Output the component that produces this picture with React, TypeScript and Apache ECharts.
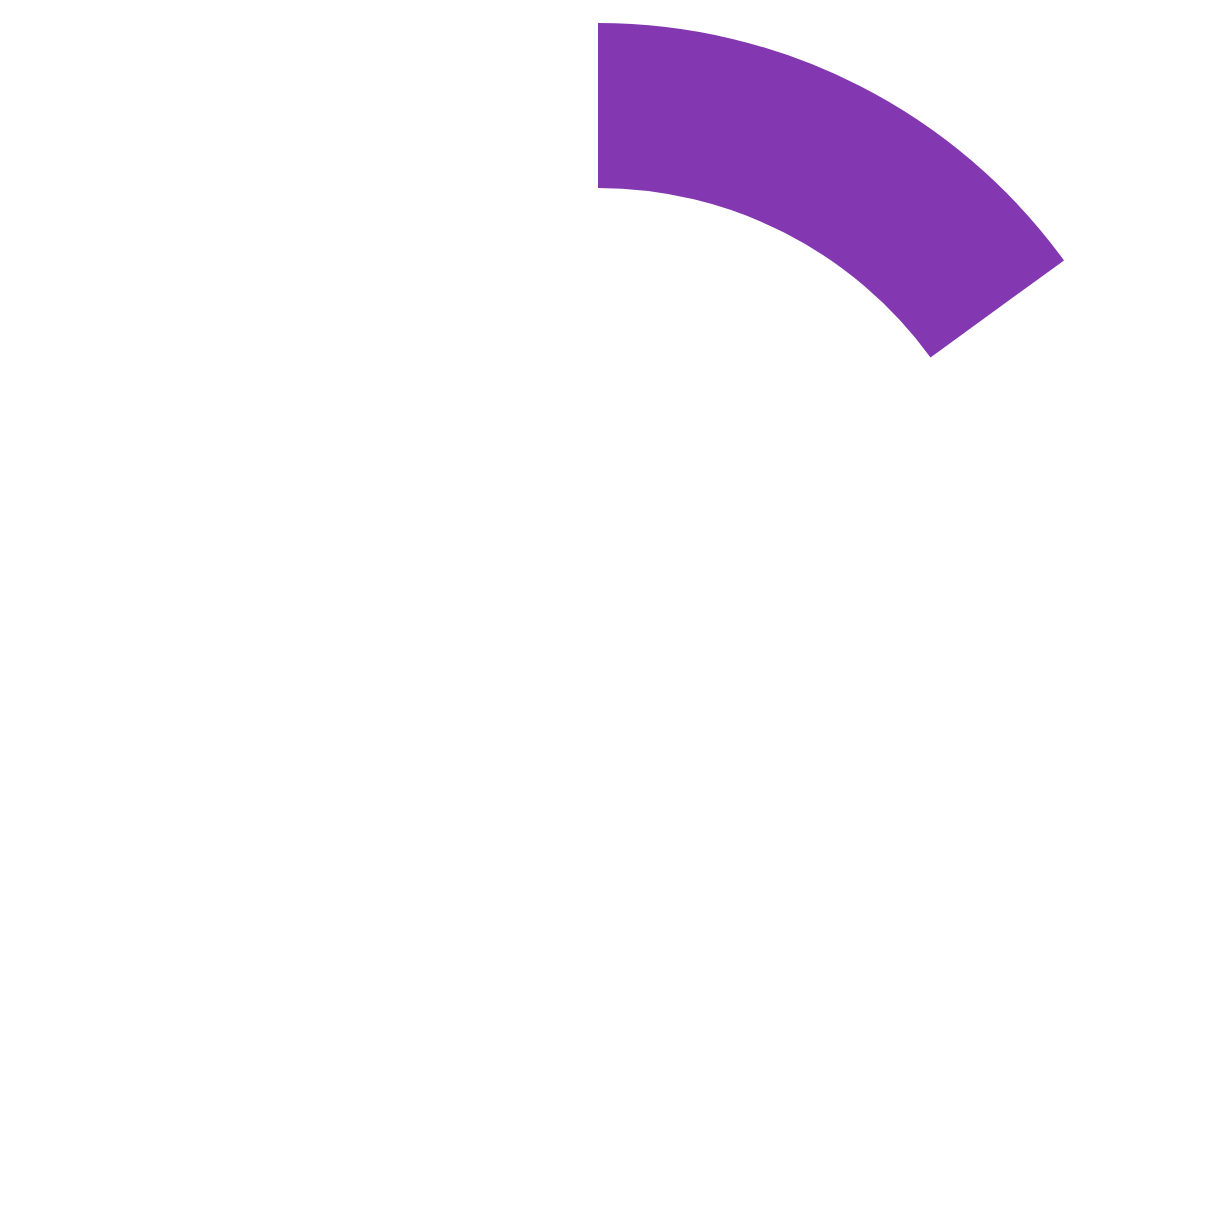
import { useEffect, useRef } from "react";
import * as echarts from "echarts";

// one visible slice out of a full turn, the rest left empty
const sliceNames = ["filled", "rest"];
const sliceValues = [15, 85];
const sliceColors = ["#8337b0", "transparent"];

export default function App() {
  const chartRef = useRef<HTMLDivElement | null>(null);

  useEffect(() => {
    if (!chartRef.current) {
      return;
    }

    const chart = echarts.init(chartRef.current, undefined, { renderer: "svg" });

    chart.setOption({
      animation: false,
      backgroundColor: "#ffffff",
      series: [
        {
          type: "pie",
          silent: true,
          center: [590, 591],
          radius: [411, 576],
          startAngle: 90,
          clockwise: true,
          label: { show: false },
          labelLine: { show: false },
          emphasis: { disabled: true },
          data: sliceNames.map((name, i) => ({
            name,
            value: sliceValues[i],
            itemStyle: { color: sliceColors[i], borderWidth: 0 },
          })),
        },
      ],
    });

    const handleResize = () => {
      chart.resize();
    };
    window.addEventListener("resize", handleResize);

    return () => {
      window.removeEventListener("resize", handleResize);
      chart.dispose();
    };
  }, []);

  return <div ref={chartRef} style={{ width: "100%", height: 1206 }} />;
}
